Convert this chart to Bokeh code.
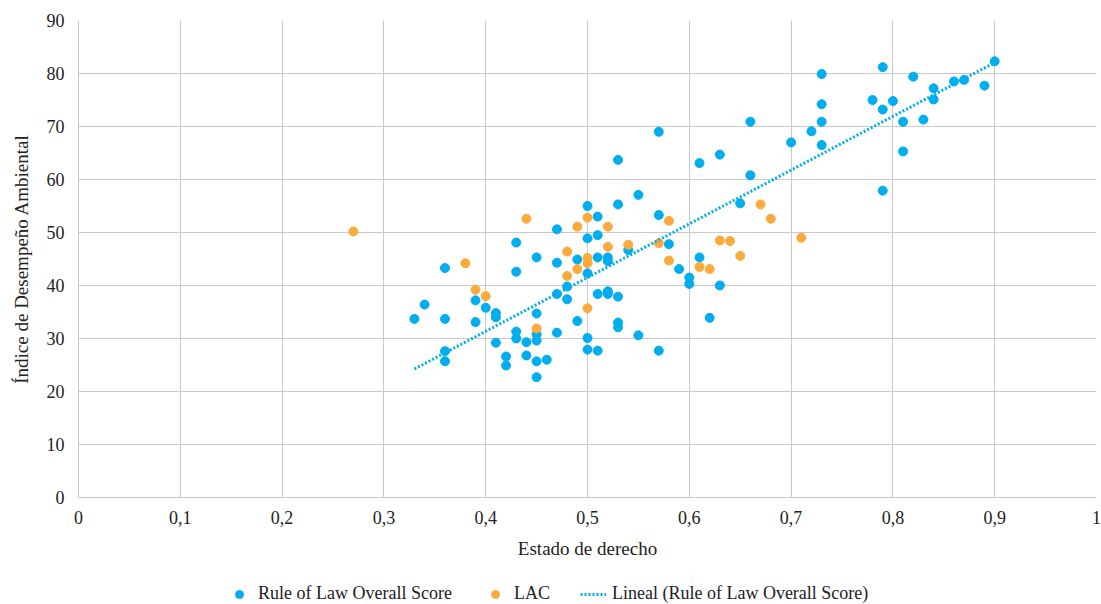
import numpy as np
from bokeh.plotting import figure
from bokeh.layouts import column
from bokeh.models import Legend, LegendItem, FixedTicker, Range1d
from bokeh.embed import file_html
from bokeh.resources import INLINE

# Blue series: Rule of Law Overall Score
rol_x = [0.33, 0.34, 0.36, 0.36, 0.36, 0.36, 0.39, 0.39, 0.40, 0.41, 0.41, 0.41,
         0.42, 0.42, 0.43, 0.43, 0.43, 0.43, 0.44, 0.44, 0.45, 0.45, 0.45, 0.45,
         0.45, 0.45, 0.46, 0.47, 0.47, 0.47, 0.47, 0.48, 0.48, 0.49, 0.49, 0.50,
         0.50, 0.50, 0.50, 0.50, 0.51, 0.51, 0.51, 0.51, 0.51, 0.52, 0.52, 0.52,
         0.52, 0.53, 0.53, 0.53, 0.53, 0.53, 0.54, 0.55, 0.55, 0.57, 0.57, 0.57,
         0.58, 0.59, 0.60, 0.60, 0.61, 0.61, 0.62, 0.63, 0.63, 0.65, 0.66, 0.66,
         0.70, 0.72, 0.73, 0.73, 0.73, 0.73, 0.78, 0.79, 0.79, 0.79, 0.80, 0.81,
         0.81, 0.82, 0.83, 0.84, 0.84, 0.86, 0.87, 0.89, 0.90]
rol_y = [33.7, 36.4, 43.3, 33.7, 27.6, 25.7, 37.2, 33.1, 35.8, 34.8, 34.0, 29.2,
         26.6, 24.9, 48.1, 42.6, 31.3, 30.0, 29.3, 26.8, 45.3, 34.7, 30.8, 29.6,
         25.7, 22.7, 26.0, 50.6, 44.3, 38.4, 31.1, 39.8, 37.4, 44.9, 33.3, 55.0,
         48.9, 42.3, 30.1, 27.9, 53.0, 49.5, 45.3, 38.4, 27.7, 45.3, 44.6, 38.9,
         38.4, 63.7, 55.3, 37.9, 33.0, 32.1, 46.7, 57.1, 30.6, 69.0, 53.3, 27.7,
         47.8, 43.1, 41.5, 40.3, 63.1, 45.3, 33.9, 64.7, 40.0, 55.5, 70.9, 60.8,
         67.0, 69.1, 79.9, 74.2, 70.9, 66.5, 75.0, 81.2, 73.2, 57.9, 74.8, 70.9,
         65.3, 79.4, 71.3, 77.2, 75.1, 78.5, 78.8, 77.7, 82.3]

# Orange series: LAC
lac_x = [0.27, 0.38, 0.39, 0.40, 0.44, 0.45, 0.48, 0.48, 0.49, 0.49, 0.50, 0.50,
         0.50, 0.50, 0.52, 0.52, 0.54, 0.57, 0.58, 0.58, 0.61, 0.62, 0.63, 0.64,
         0.65, 0.67, 0.68, 0.71]
lac_y = [50.2, 44.2, 39.2, 38.0, 52.6, 31.9, 46.4, 41.8, 51.1, 43.1, 52.8, 45.2,
         44.2, 35.7, 51.1, 47.3, 47.7, 48.0, 52.2, 44.7, 43.5, 43.1, 48.5, 48.4,
         45.6, 55.3, 52.6, 49.0]

x_ticks = [0, 0.1, 0.2, 0.3, 0.4, 0.5, 0.6, 0.7, 0.8, 0.9, 1]
x_tick_labels = ["0", "0,1", "0,2", "0,3", "0,4", "0,5", "0,6", "0,7", "0,8", "0,9", "1"]
y_ticks = [0, 10, 20, 30, 40, 50, 60, 70, 80, 90]
series_names = ["Rule of Law Overall Score", "LAC", "Lineal (Rule of Law Overall Score)"]

BLUE = "#00AEEF"
ORANGE = "#FBAA3C"
FONT = "Liberation Serif"
GRID = "#c9c9c9"

p = figure(frame_width=1018, frame_height=477, output_backend="svg", toolbar_location=None,
           x_range=Range1d(0, 1), y_range=Range1d(0, 90),
           min_border_left=78, min_border_right=5, min_border_top=20, min_border_bottom=75)
p.outline_line_color = None
p.background_fill_color = "white"

# trend line (least squares on blue series)
coef = np.polyfit(rol_x, rol_y, 1)
tx = np.array([min(rol_x), max(rol_x)])
ty = coef[0] * tx + coef[1]

p.scatter(rol_x, rol_y, size=9, color=BLUE, line_color=BLUE)
p.scatter(lac_x, lac_y, size=9, color=ORANGE, line_color=ORANGE)
p.line(tx, ty, line_color=BLUE, line_width=3, line_dash="2 2")

p.xaxis.ticker = FixedTicker(ticks=x_ticks)
p.xaxis.major_label_overrides = {t: l for t, l in zip(x_ticks, x_tick_labels)}
p.yaxis.ticker = FixedTicker(ticks=y_ticks)

for ax in (p.xaxis[0], p.yaxis[0]):
    ax.major_label_text_font = FONT
    ax.major_label_text_font_size = "18px"
    ax.major_label_text_color = "#222222"
    ax.axis_label_text_font = FONT
    ax.axis_label_text_font_size = "19px"
    ax.axis_label_text_font_style = "normal"
    ax.axis_label_text_color = "#222222"
    ax.axis_line_color = GRID
    ax.major_tick_line_color = None
    ax.minor_tick_line_color = None

p.xaxis.axis_label = "Estado de derecho"
p.yaxis.axis_label = "Índice de Desempeño Ambiental"
p.xaxis.major_label_standoff = 7
p.yaxis.major_label_standoff = 8
p.xaxis.axis_label_standoff = 11
p.yaxis.axis_label_standoff = 12

p.xgrid.grid_line_color = GRID
p.ygrid.grid_line_color = GRID

# legend strip (separate small figure below the chart); its renderers reuse the
# same data, which falls outside this strip's ranges so only the legend shows
lg = figure(width=1101, height=32, output_backend="svg", toolbar_location=None,
            x_range=Range1d(0, 1), y_range=Range1d(0, 1),
            min_border_left=0, min_border_right=0, min_border_top=0, min_border_bottom=0)
lg.outline_line_color = None
lg.axis.visible = False
lg.grid.visible = False
l_blue = lg.scatter(rol_x, rol_y, size=9, color=BLUE, line_color=BLUE)
l_lac = lg.scatter(lac_x, lac_y, size=9, color=ORANGE, line_color=ORANGE)
l_trend = lg.line(tx, ty, line_color=BLUE, line_width=3, line_dash="2 2")

legend = Legend(items=[
    LegendItem(label=series_names[0], renderers=[l_blue]),
    LegendItem(label=series_names[1], renderers=[l_lac]),
    LegendItem(label=series_names[2], renderers=[l_trend]),
], orientation="horizontal", location=(148, 0),
    label_text_font=FONT, label_text_font_size="18px", label_text_color="#222222",
    border_line_color=None, background_fill_alpha=0, spacing=30,
    glyph_width=26, glyph_height=20, label_height=20, label_standoff=6, margin=0, padding=0)
lg.add_layout(legend, "center")

layout = column(p, lg, spacing=0)
open("out.html", "w").write(file_html(layout, INLINE))
